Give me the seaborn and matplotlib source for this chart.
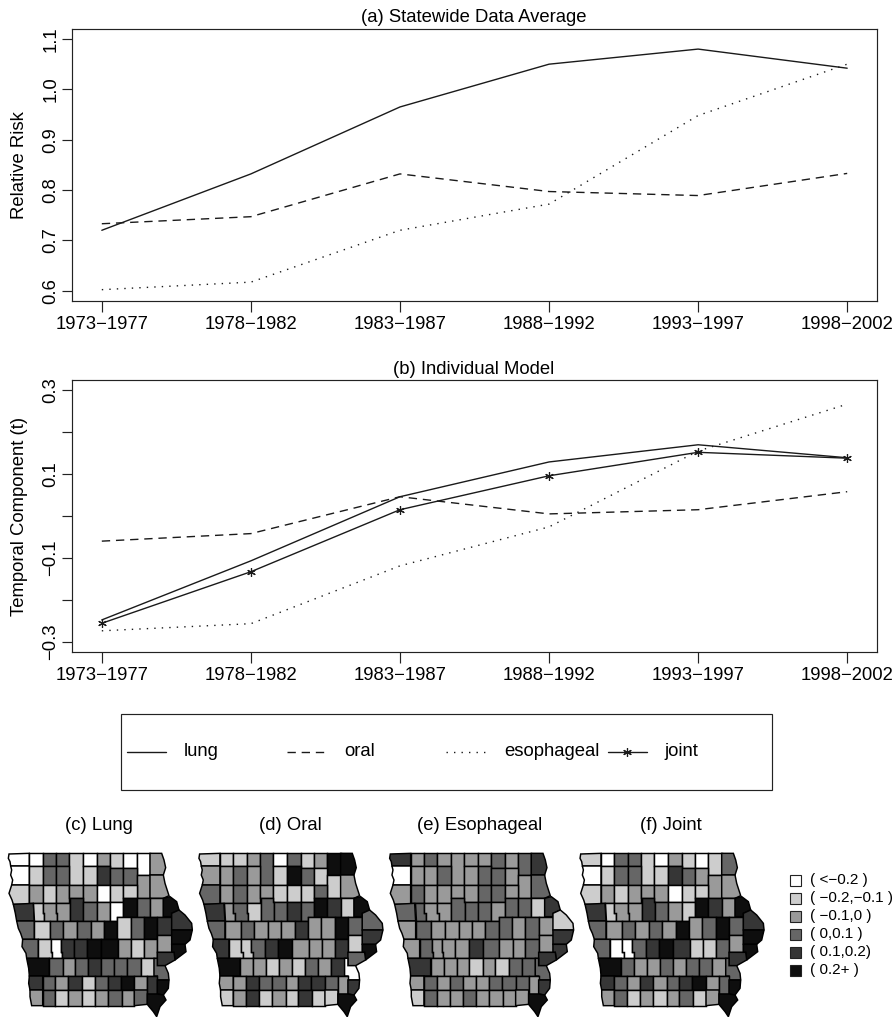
import numpy as np
import pandas as pd
import matplotlib
matplotlib.use("Agg")
import matplotlib.pyplot as plt
from matplotlib.patches import Polygon, Rectangle
import seaborn as sns

# ------------------------------------------------------------------ data
periods = ["1973\u22121977", "1978\u22121982", "1983\u22121987", "1988\u22121992", "1993\u22121997", "1998\u22122002"]
period_index = [1, 2, 3, 4, 5, 6]

rr_lung = [0.720, 0.832, 0.965, 1.050, 1.080, 1.042]
rr_oral = [0.733, 0.747, 0.832, 0.797, 0.789, 0.833]
rr_esoph = [0.602, 0.617, 0.720, 0.772, 0.948, 1.050]

tc_lung = [-0.248, -0.107, 0.046, 0.129, 0.170, 0.139]
tc_oral = [-0.060, -0.042, 0.046, 0.005, 0.015, 0.058]
tc_esoph = [-0.274, -0.257, -0.119, -0.026, 0.155, 0.267]
tc_joint = [-0.256, -0.133, 0.015, 0.096, 0.152, 0.138]

rr_ticks = [0.6, 0.7, 0.8, 0.9, 1.0, 1.1]
rr_ticklabels = ["0.6", "0.7", "0.8", "0.9", "1.0", "1.1"]
tc_ticks = [-0.3, -0.2, -0.1, 0.0, 0.1, 0.2, 0.3]
tc_ticklabels = ["\u22120.3", "", "\u22120.1", "", "0.1", "", "0.3"]

class_labels = ["( <\u22120.2 )", "( \u22120.2,\u22120.1 )", "( \u22120.1,0 )", "( 0,0.1 )", "( 0.1,0.2)", "( 0.2+ )"]
class_colors = ["#ffffff", "#cdcdcd", "#9a9a9a", "#666666", "#363636", "#0e0e0e"]

# county classes, rows north to south, same order as COUNTIES below
map_lung = [0,0,3,3,1,0,2,1,0,0,2,
            0,1,3,3,1,4,3,3,2,2,
            1,2,1,2,2,2,0,1,1,
            4,1,2,2,4,3,2,0,5,3,2,5,
            3,1,3,2,3,2,5,1,3,5,4,4,
            3,1,0,4,4,5,5,2,1,2,2,5,5,4,
            5,3,2,3,4,3,3,3,1,3,
            4,3,2,4,1,3,4,5,2,4,5,
            2,3,1,2,1,2,3,2,3,5]
map_oral = [1,1,1,2,3,0,3,1,2,5,5,
            2,2,3,2,1,5,3,1,1,2,
            3,2,3,2,2,1,1,1,3,
            4,2,3,1,3,3,4,3,5,4,1,5,
            3,2,3,2,2,2,4,2,2,5,3,3,
            4,1,1,3,4,5,2,2,2,4,1,4,5,3,
            5,2,2,1,2,1,3,2,4,0,
            2,2,4,3,3,2,4,4,3,2,4,
            1,2,4,1,2,1,4,1,1,5]
map_esoph = [4,2,3,2,2,2,2,3,2,3,4,
             0,2,2,3,2,3,3,2,2,3,
             2,3,2,2,2,2,3,3,2,
             3,3,2,2,3,3,3,2,3,3,1,4,
             2,3,2,2,2,2,3,3,2,3,2,1,
             2,3,2,2,2,4,3,2,2,3,2,4,4,4,
             4,2,2,2,1,2,1,3,3,3,
             2,3,2,3,2,2,3,3,3,2,4,
             1,3,2,2,3,2,2,2,2,5]
map_joint = [1,0,3,3,1,0,2,1,0,1,3,
             0,1,3,3,1,4,3,2,2,2,
             1,2,1,2,2,2,0,1,1,
             4,1,2,2,4,3,2,1,5,4,2,5,
             3,2,3,2,3,2,5,2,3,5,3,4,
             3,0,0,3,4,5,4,1,1,3,2,5,5,4,
             5,3,2,2,3,2,3,3,2,3,
             4,3,2,4,2,3,4,5,2,3,5,
             2,3,1,2,1,2,3,1,2,5]
map_sets = [("(c) Lung", map_lung), ("(d) Oral", map_oral),
            ("(e) Esophageal", map_esoph), ("(f) Joint", map_joint)]


def r(x0, x1, y0, y1):
    return [(x0, y0), (x1, y0), (x1, y1), (x0, y1)]


# outline template of the state (drawing units, y down)
COUNTIES = [
    # row 1
    [(27,27),(88,25),(88,63),(32,63),(30,50),(25,40)], r(88,128,25,63), r(128,168,25,63), r(168,208,25,63),
    r(208,248,25,120), r(248,290,25,63), r(290,330,25,63), r(330,370,25,68), r(370,410,25,68), r(410,450,25,90),
    [(450,25),(485,25),(492,45),(497,68),(490,90),(450,90)],
    # row 2
    [(32,63),(88,63),(88,120),(35,120),(38,105),(32,90),(35,75)], r(88,128,63,120), r(128,168,63,120), r(168,208,63,120),
    r(248,290,63,120), r(290,330,63,120), r(330,370,68,120), r(370,410,68,120), r(410,450,90,160),
    [(450,90),(490,90),(495,115),(507,152),(490,160),(450,160)],
    # row 3
    [(35,120),(88,120),(88,178),(40,178),(36,165),(27,145)], r(88,128,120,175), r(128,168,120,175), r(168,208,120,175),
    r(208,248,120,160), r(248,290,120,172), r(290,330,120,172), r(330,370,120,172), r(370,410,120,160),
    # row 4
    [(40,178),(100,175),(103,228),(50,228),(46,205)], [(100,175),(128,175),(128,205),(133,205),(133,228),(103,228)],
    [(128,175),(168,175),(168,205),(172,205),(172,228),(133,228),(133,205),(128,205)],
    [(168,175),(210,175),(210,228),(172,228),(172,205),(168,205)],
    [(210,160),(248,160),(248,172),(250,172),(250,228),(210,228)], r(250,290,172,228), r(290,330,172,228),
    [(330,172),(370,172),(370,215),(352,215),(352,228),(330,228)], r(370,410,160,215), r(410,450,160,215), r(450,490,160,215),
    [(490,160),(510,155),(530,170),(537,195),(515,205),(515,215),(490,215)],
    # row 5
    [(50,228),(103,228),(103,283),(68,283),(62,265),(55,250)], r(103,150,228,283), r(150,190,228,283), r(190,232,228,283),
    r(232,272,228,283), r(272,312,228,283), [(312,228),(352,228),(352,283),(312,283)], r(352,392,215,283), r(392,432,215,283),
    r(432,472,215,283), r(472,515,215,270), [(515,215),(515,205),(537,195),(555,210),(575,235),(577,255),(515,255)],
    # row 6
    [(68,283),(115,283),(115,340),(80,340),(78,325),(66,305)], [(115,283),(152,283),(152,320),(156,320),(156,340),(115,340)],
    [(152,283),(182,283),(182,320),(186,320),(186,340),(156,340),(156,320),(152,320)],
    [(182,283),(222,283),(222,340),(186,340),(186,320),(182,320)], r(222,262,283,340), r(262,304,283,340), r(304,354,283,340),
    r(354,394,283,340), r(394,432,283,340), r(432,472,283,340), r(472,515,270,322),
    [(515,255),(577,255),(570,285),(555,298),(515,298)], [(515,298),(555,298),(558,320),(525,345),(522,322),(515,322)],
    [(472,322),(522,322),(525,345),(495,362),(472,362)],
    # row 7
    [(80,340),(148,340),(148,393),(88,393),(86,370)], r(148,188,340,393), r(188,226,340,393), r(226,264,340,393),
    r(264,304,340,393), r(304,342,340,393), r(342,382,340,393), r(382,422,340,393), r(422,462,340,393),
    [(462,340),(472,340),(472,362),(495,362),(505,385),(507,405),(472,405),(472,393),(462,393)],
    # row 8
    [(88,393),(128,393),(128,435),(90,435),(86,415)], r(128,166,393,435), r(166,205,393,435), r(205,245,393,435),
    r(245,285,393,435), r(285,323,393,435), r(323,362,393,435), r(362,403,393,435), r(403,442,393,435), r(442,472,393,447),
    [(472,405),(507,405),(505,430),(490,450),(472,447)],
    # row 9
    [(90,435),(128,435),(128,482),(95,482),(90,455)], r(128,166,435,482), r(166,205,435,482), r(205,245,435,482),
    r(245,285,435,482), r(285,323,435,482), r(323,365,435,482), r(365,403,435,482), [(403,435),(442,435),(442,478),(403,482)],
    [(442,447),(472,447),(490,450),(498,465),(480,485),(470,515),(460,500),(445,482),(442,478)],
]

# ------------------------------------------------------------------ style
sns.set_theme(style="ticks")
plt.rcParams["font.family"] = ["Liberation Sans", "DejaVu Sans"]
plt.rcParams["axes.linewidth"] = 0.85
plt.rcParams["text.color"] = "black"
plt.rcParams["axes.labelcolor"] = "black"
plt.rcParams["xtick.labelcolor"] = "black"
plt.rcParams["ytick.labelcolor"] = "black"
W, H = 895, 1017
fig = plt.figure(figsize=(W / 100, H / 100), dpi=100, facecolor="white")


def px_axes(x0, y0, x1, y1, **kw):
    return fig.add_axes([x0 / W, 1 - y1 / H, (x1 - x0) / W, (y1 - y0) / H], **kw)


LW = 1.0
STY = {"lung": "-", "oral": (0, (6.0, 4.2)), "esophageal": (0, (1, 4.4)), "joint": "-"}
STAR = dict(marker=(6, 2, 0), markersize=6.2, markeredgewidth=0.85, markeredgecolor="k")
TXT = 13.3


def series_plot(ax, values, name):
    df = pd.DataFrame({"period": period_index, "value": values})
    kw = dict(STAR) if name == "joint" else {}
    sns.lineplot(data=df, x="period", y="value", ax=ax, color="k", linewidth=LW,
                 linestyle=STY[name], errorbar=None, legend=False, **kw)


def dress(ax, ticks, labels, ylim, ylabel):
    ax.set_xlim(0.8, 6.2)
    ax.set_ylim(*ylim)
    ax.set_xticks(period_index)
    ax.set_xticklabels(periods, fontsize=TXT, color="black")
    ax.set_yticks(ticks)
    ax.set_yticklabels(labels, fontsize=TXT, rotation=90, va="center", color="black")
    ax.tick_params(axis="x", length=8, width=0.85, pad=3, color="#222222")
    ax.tick_params(axis="y", length=7.5, width=0.85, pad=1.5, color="#222222")
    ax.set_xlabel("")
    ax.set_ylabel(ylabel, fontsize=TXT, color="black")
    ax.yaxis.set_label_coords((28 - 72) / 805, 0.5)
    for s in ax.spines.values():
        s.set_color("#222222")


# full-figure layer for free text and keys, in pixels
layer = px_axes(0, 0, W, H)
layer.set_xlim(0, W)
layer.set_ylim(H, 0)
layer.axis("off")

# panel (a)
ax_a = px_axes(72, 29, 877, 301)
ax_a.patch.set_alpha(0)
series_plot(ax_a, rr_lung, "lung")
series_plot(ax_a, rr_oral, "oral")
series_plot(ax_a, rr_esoph, "esophageal")
dress(ax_a, rr_ticks, rr_ticklabels, (0.5795, 1.1199), "Relative Risk")
layer.text(474, 18, "(a) Statewide Data Average", fontsize=TXT, ha="center", va="center")

# panel (b)
ax_b = px_axes(72, 380, 877, 652)
ax_b.patch.set_alpha(0)
series_plot(ax_b, tc_lung, "lung")
series_plot(ax_b, tc_oral, "oral")
series_plot(ax_b, tc_esoph, "esophageal")
series_plot(ax_b, tc_joint, "joint")
dress(ax_b, tc_ticks, tc_ticklabels, (-0.3246, 0.3246), "Temporal Component (t)")
layer.text(474, 369, "(b) Individual Model", fontsize=TXT, ha="center", va="center")

# line legend
layer.add_patch(Rectangle((121, 714), 651, 76, fill=False, ec="#222222", lw=0.85))
legend_items = [("lung", 127, 184), ("oral", 287, 344.5), ("esophageal", 446, 504.5), ("joint", 608, 664)]
for name, x0, xt in legend_items:
    xs = np.array([x0, x0 + 39])
    layer.plot(xs, [752, 752], color="k", lw=LW, linestyle=STY[name])
    if name == "joint":
        layer.plot([x0 + 19.5], [752], color="k", **STAR)
    layer.text(xt, 752, name, fontsize=TXT, ha="left", va="center")

# maps
offsets = [0, 190.6, 381.3, 571.7]
title_x = [99, 290, 480, 670.5]
for off, tx, (title, classes) in zip(offsets, title_x, map_sets):
    ax = px_axes(off, 845, off + 200, 1017)
    ax.set_xlim(0, 600)
    ax.set_ylim(516, 0)
    ax.axis("off")
    ax.patch.set_alpha(0)
    for poly, c in zip(COUNTIES, classes):
        ax.add_patch(Polygon(poly, closed=True, fc=class_colors[c], ec="black", lw=1.05, joinstyle="miter"))
    layer.text(tx, 826, title, fontsize=TXT, ha="center", va="center")

# class key
key_y = [880, 898, 916, 934, 952, 970]
for y, col, lab in zip(key_y, class_colors, class_labels):
    layer.add_patch(Rectangle((790, y - 5.5), 11, 11, fc=col, ec="#222222", lw=0.8))
    layer.text(810.5, y, lab, fontsize=11, ha="left", va="center")

fig.savefig("out.png", dpi=100, facecolor="white")
